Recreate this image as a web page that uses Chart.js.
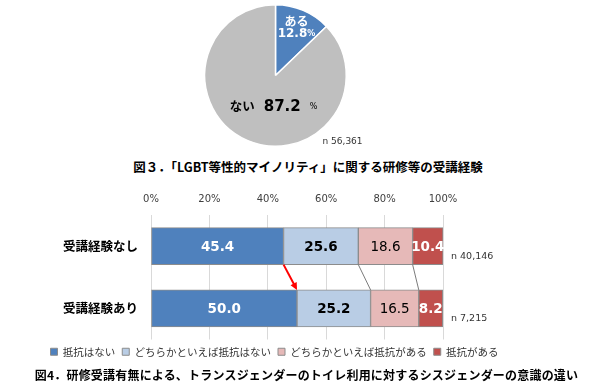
<!DOCTYPE html>
<html lang="ja">
<head>
<meta charset="utf-8">
<script src="https://cdn.jsdelivr.net/npm/chart.js@4.4.1/dist/chart.umd.min.js"></script>
<style>
  html, body { margin: 0; padding: 0; background: #fff; }
  body { width: 600px; height: 391px; position: relative; overflow: hidden; }
  canvas { position: absolute; }
  .title {
    position: absolute; white-space: nowrap; text-align: center; color: #000;
    font-family: 'Noto Sans CJK JP', sans-serif; font-weight: 700;
  }
</style>
</head>
<body>
<canvas id="pie-chart" width="600" height="150" style="left:0;top:0;width:600px;height:150px"></canvas>
<div class="title" style="left:108px;width:400px;top:159px;font-size:12.5px;line-height:16px">図３．「LGBT等性的マイノリティ」に関する研修等の受講経験</div>
<canvas id="bar-chart" width="600" height="187" style="left:0;top:180px;width:600px;height:187px"></canvas>
<div class="title" style="left:0;width:613px;top:367px;font-size:12px;line-height:16px;letter-spacing:0.2px">図4．研修受講有無による、トランスジェンダーのトイレ利用に対するシスジェンダーの意識の違い</div>
<script>
// 図3: 受講経験 (円グラフ)
const pieLabels = ['ある', 'ない']
const pieValues = [12.8, 87.2]
const pieN = 'n 56,361'

// 図4: 受講経験別の意識 (積み上げ横棒)
const rowLabels = ['受講経験なし', '受講経験あり']
const rowN = ['n 40,146', 'n 7,215']
const seriesNames = ['抵抗はない', 'どちらかといえば抵抗はない', 'どちらかといえば抵抗がある', '抵抗がある']
const resistNone = [45.4, 50.0]
const ratherNone = [25.6, 25.2]
const ratherSome = [18.6, 16.5]
const resistSome = [10.4, 8.2]
const xTicks = [0, 20, 40, 60, 80, 100]

const NUM_FONT = "'DejaVu Sans', Verdana, sans-serif"
const JP_FONT = "'Noto Sans CJK JP', sans-serif"

// 円グラフのラベル
const pieLabelPlugin = {
  id: 'pieLabels',
  afterDatasetsDraw(chart) {
    const ctx = chart.ctx
    const arcs = chart.getDatasetMeta(0).data
    if (!arcs.length) return
    ctx.save()
    ctx.textBaseline = 'middle'

    // ある 12.8%
    const a = arcs[0]
    const mid = (a.startAngle + a.endAngle) / 2
    const px = a.x + Math.cos(mid) * a.outerRadius * 0.72
    const py = a.y + Math.sin(mid) * a.outerRadius * 0.72
    ctx.fillStyle = '#fff'
    ctx.textAlign = 'center'
    ctx.font = `700 12px ${JP_FONT}`
    ctx.fillText(pieLabels[0], px + 1, py - 7)
    drawParts(ctx, px + 1, py + 5, [
      [pieValues[0].toFixed(1), `700 12px ${NUM_FONT}`, 0],
      ['%', `700 8px ${NUM_FONT}`, 0],
    ])

    // ない 87.2 %
    const b = arcs[1]
    ctx.fillStyle = '#000'
    drawParts(ctx, b.x - 2, b.y + b.outerRadius * 0.44, [
      [pieLabels[1], `700 12.5px ${JP_FONT}`, 9],
      [pieValues[1].toFixed(1), `700 15px ${NUM_FONT}`, 9],
      ['%', `8px ${NUM_FONT}`, 0],
    ])

    ctx.fillStyle = '#333'
    ctx.font = `9px ${NUM_FONT}`
    ctx.textAlign = 'left'
    ctx.fillText(pieN, b.x + 47, b.y + 66)
    ctx.restore()
  },
}

function drawParts(ctx, cx, y, parts) {
  let total = 0
  for (const [t, f, gap] of parts) {
    ctx.font = f
    total += ctx.measureText(t).width + gap
  }
  let x = cx - total / 2
  ctx.textAlign = 'left'
  for (const [t, f, gap] of parts) {
    ctx.font = f
    ctx.fillText(t, x, y)
    x += ctx.measureText(t).width + gap
  }
}

new Chart(document.getElementById('pie-chart'), {
  type: 'pie',
  data: {
    labels: pieLabels,
    datasets: [{
      data: pieValues,
      backgroundColor: ['#4f81bd', '#bfbfbf'],
      borderColor: '#fff',
      borderWidth: 1.5,
    }],
  },
  options: {
    responsive: false,
    animation: false,
    layout: { padding: { left: 204, right: 253, top: 4, bottom: 3 } },
    plugins: { legend: { display: false }, tooltip: { enabled: false } },
  },
  plugins: [pieLabelPlugin],
})

// 棒の中の数値、区切り線、矢印、n
const barLabelPlugin = {
  id: 'barLabels',
  afterDatasetsDraw(chart) {
    const ctx = chart.ctx
    const metas = chart.data.datasets.map((_, i) => chart.getDatasetMeta(i))
    const styles = [
      ['#fff', 700],
      ['#000', 700],
      ['#000', 400],
      ['#fff', 700],
    ]
    ctx.save()

    // 行間の区切り線
    ctx.strokeStyle = '#595959'
    ctx.lineWidth = 0.8
    for (const d of [1, 2]) {
      const top = metas[d].data[0]
      const bot = metas[d].data[1]
      ctx.beginPath()
      ctx.moveTo(top.x, top.y + top.height / 2)
      ctx.lineTo(bot.x, bot.y - bot.height / 2)
      ctx.stroke()
    }

    // 赤い矢印
    const s = metas[0].data[0]
    const e = metas[0].data[1]
    const x1 = s.x, y1 = s.y + s.height / 2
    const x2 = e.x, y2 = e.y - e.height / 2
    const ang = Math.atan2(y2 - y1, x2 - x1)
    const head = 8
    ctx.strokeStyle = '#ff0000'
    ctx.fillStyle = '#ff0000'
    ctx.lineWidth = 2
    ctx.beginPath()
    ctx.moveTo(x1, y1)
    ctx.lineTo(x2 - Math.cos(ang) * head * 0.8, y2 - Math.sin(ang) * head * 0.8)
    ctx.stroke()
    ctx.beginPath()
    ctx.moveTo(x2, y2)
    ctx.lineTo(x2 - head * Math.cos(ang - 0.45), y2 - head * Math.sin(ang - 0.45))
    ctx.lineTo(x2 - head * Math.cos(ang + 0.45), y2 - head * Math.sin(ang + 0.45))
    ctx.closePath()
    ctx.fill()

    // 数値
    ctx.textAlign = 'center'
    ctx.textBaseline = 'middle'
    metas.forEach((meta, i) => {
      const values = chart.data.datasets[i].data
      meta.data.forEach((bar, j) => {
        ctx.fillStyle = styles[i][0]
        ctx.font = `${styles[i][1]} 13.5px ${NUM_FONT}`
        ctx.fillText(values[j].toFixed(1), (bar.x + bar.base) / 2, bar.y + 1)
      })
    })

    // n
    const yScale = chart.scales.y
    ctx.fillStyle = '#333'
    ctx.font = `9.5px ${NUM_FONT}`
    ctx.textAlign = 'left'
    rowN.forEach((t, j) => {
      ctx.fillText(t, chart.chartArea.right + 8, yScale.getPixelForValue(j) + 10)
    })
    ctx.restore()
  },
}

const barColors = ['#4f81bd', '#b9cde5', '#e6b9b8', '#c0504d']
const barData = [resistNone, ratherNone, ratherSome, resistSome]

new Chart(document.getElementById('bar-chart'), {
  type: 'bar',
  data: {
    labels: rowLabels,
    datasets: barData.map((d, i) => ({
      label: seriesNames[i],
      data: d,
      backgroundColor: barColors[i],
      borderColor: '#8c8c8c',
      borderWidth: 1,
      borderSkipped: false,
      barThickness: 37,
    })),
  },
  options: {
    indexAxis: 'y',
    responsive: false,
    animation: false,
    layout: { padding: { left: 0, right: 51, top: 0, bottom: 0 } },
    plugins: {
      tooltip: { enabled: false },
      legend: {
        position: 'bottom',
        labels: {
          boxWidth: 7,
          boxHeight: 7,
          padding: 7,
          color: '#333',
          font: { family: JP_FONT, size: 10.5 },
        },
      },
    },
    scales: {
      x: {
        position: 'top',
        stacked: true,
        min: 0,
        max: 100,
        afterBuildTicks: (scale) => { scale.ticks = xTicks.map((v) => ({ value: v })) },
        afterFit: (scale) => { scale.height = 35 },
        grid: { color: '#d9d9d9', drawTicks: false },
        border: { display: false },
        ticks: {
          padding: 10,
          color: '#404040',
          font: { family: NUM_FONT, size: 10 },
          callback: (v) => v + '%',
        },
      },
      y: {
        stacked: true,
        afterFit: (scale) => { scale.width = 151 },
        grid: { display: false, drawTicks: false },
        border: { display: false },
        ticks: {
          padding: 13,
          color: '#000',
          font: { family: JP_FONT, size: 12.5, weight: 700 },
        },
      },
      y2: {
        position: 'right',
        afterFit: (scale) => { scale.width = 106 },
        grid: { display: false, drawTicks: false },
        border: { display: false },
        ticks: { display: false },
      },
    },
  },
  plugins: [barLabelPlugin],
})
</script>
</body>
</html>
